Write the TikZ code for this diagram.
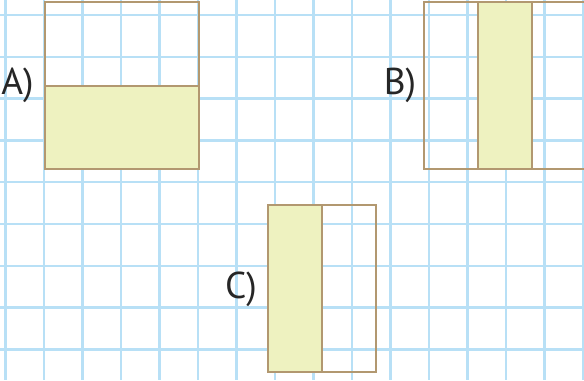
\documentclass[tikz,border=0pt]{standalone}
\usepackage{fontspec}
\setmainfont{PT Sans}
\definecolor{gridblue}{RGB}{184,224,246}
\definecolor{shadefill}{RGB}{238,242,192}
\definecolor{rimbrown}{RGB}{178,152,112}
\definecolor{inkgray}{RGB}{38,38,38}
\tikzset{every picture/.style={line width=0.75pt}}
\tikzset{gridline/.style={gridblue, line width=1.9},
  rim/.style={draw=rimbrown, line width=1.5},
  shaded/.style={fill=shadefill, draw=rimbrown, line width=1.5},
  tag/.style={inner sep=0.75pt, text=inkgray, font=\fontsize{28}{30}\selectfont}}

\begin{document}
\begin{tikzpicture}[x=0.75pt,y=0.75pt,yscale=-1,xscale=1]
\useasboundingbox (0,0) rectangle (584,380);

%Grid
\foreach \i in {0,...,15} \draw [gridline] (5.7+38.5*\i,0) -- (5.7+38.5*\i,380) ;
\foreach \j in {0,...,8} \draw [gridline] (0,15+41.8*\j) -- (584,15+41.8*\j) ;

%Shape A
\draw [shaded] (45,85.5) rectangle (199,169) ;
\draw [rim] (45,2) rectangle (199,169) ;
%Shape B
\draw [shaded] (478,2) rectangle (532,169) ;
\draw [rim] (424,2) rectangle (586,169) ;
%Shape C
\draw [shaded] (268,205) rectangle (322,372) ;
\draw [rim] (268,205) rectangle (376,372) ;

% Text Node
\node [tag] (labA) at (17.5,85) {A)};
% Text Node
\node [tag] (labB) at (400,85) {B)};
% Text Node
\node [tag] (labC) at (241,289) {C)};

\end{tikzpicture}
\end{document}
